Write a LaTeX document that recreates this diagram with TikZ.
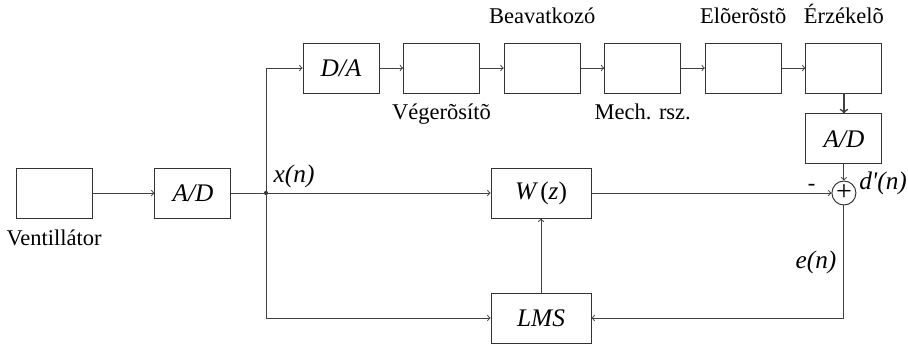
\documentclass[tikz,border=0pt]{standalone}
\usepackage{fontspec}
\setmainfont{Liberation Serif}
\usetikzlibrary{positioning, arrows}
\tikzset{
  font=\fontsize{16}{19}\selectfont,
  node distance=0.5cm and 0.59cm,
  blk/.style={draw=black!80, line width=0.7pt, rectangle, minimum width=1.9cm, minimum height=1.25cm, font=\fontsize{18}{21}\selectfont\itshape},
  wblk/.style={blk, minimum width=2.5cm},
  sumnode/.style={draw=black!80, line width=0.7pt, circle, minimum size=0.6cm, inner sep=0pt, font=\fontsize{20}{20}\selectfont},
  sig/.style={font=\fontsize{18}{21}\selectfont\itshape, inner sep=1pt},
  lbl/.style={inner sep=1pt},
  wire/.style={line width=0.7pt, draw=black!75},
  arr/.style={wire, ->}
}

\begin{document}
\begin{tikzpicture}
  \useasboundingbox (0,0) rectangle (22.7,-8.625);
  % input side
  \node[blk] (vent) at (1.35,-4.825) {};
  \node[lbl, below=0.25cm of vent] (ventlbl) {Ventillátor};
  \node[blk, right=1.55cm of vent] (adin) {A/D};
  \coordinate (jn) at (6.65,-4.825);
  \fill[black!80] (jn) circle (1.5pt);
  \node[sig, above right=0.08cm and 0.15cm of jn] (xlbl) {x(n)};

  % upper chain
  \node[blk] (da) at (8.525,-1.7) {D/A};
  \node[blk, right=of da] (amp) {};
  \node[blk, right=of amp] (act) {};
  \node[blk, right=of act] (mech) {};
  \node[blk, right=of mech] (pre) {};
  \node[blk, right=of pre] (sens) {};
  \node[blk, below=of sens] (adout) {A/D};
  \node[lbl, below=0.22cm of amp] (amplbl) {Végerõsítõ};
  \node[lbl, above=0.42cm of act] (actlbl) {Beavatkozó};
  \node[lbl, below=0.22cm of mech] (mechlbl) {Mech. rsz.};
  \node[lbl, above=0.42cm of pre] (prelbl) {Elõerõstõ};
  \node[lbl, above=0.42cm of sens] (senslbl) {Érzékelõ};

  % adaptive filter
  \node[wblk] (filt) at (13.525,-4.825) {W\,{\upshape(}z{\upshape)}};
  \node[wblk] (lms) at (13.525,-7.95) {LMS};
  \node[sumnode] (sum) at (adout |- jn) {+};
  \node[lbl, above left=-0.2cm and 0.45cm of sum] (minus) {-};
  \node[sig, above right=-0.3cm and 0.12cm of sum] (dlbl) {d\textquotesingle(n)};
  \node[sig] (elbl) at (20.4,-6.55) {e(n)};

  \draw[arr] (vent) -- (adin);
  \draw[wire] (adin) -- (jn);
  \draw[arr] (jn) |- (da);
  \draw[arr] (jn) -- (filt);
  \draw[arr] (jn) |- (lms);
  \draw[arr] (da) -- (amp);
  \draw[arr] (amp) -- (act);
  \draw[arr] (act) -- (mech);
  \draw[arr] (mech) -- (pre);
  \draw[arr] (pre) -- (sens);
  \draw[arr, line width=1.2pt] (sens) -- (adout);
  \draw[arr] (adout) -- (sum);
  \draw[arr] (filt) -- (sum);
  \draw[arr] (sum) |- (lms);
  \draw[arr] (lms) -- (filt);
\end{tikzpicture}
\end{document}
